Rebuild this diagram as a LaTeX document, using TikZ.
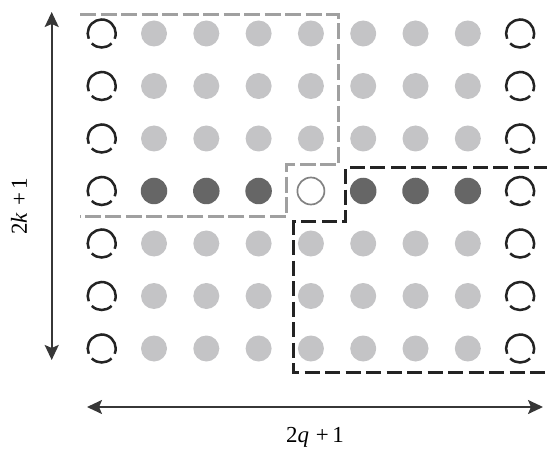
\documentclass[tikz,border=0pt]{standalone}
\usepackage{fontspec}
\setmainfont{Liberation Serif}
\usetikzlibrary{arrows.meta}
\definecolor{lightdot}{RGB}{196,196,198}
\definecolor{darkdot}{RGB}{102,102,102}
\definecolor{edgeblack}{RGB}{35,35,35}
\definecolor{graydash}{RGB}{160,160,160}
\definecolor{arrowgray}{RGB}{55,55,55}
\definecolor{centergray}{RGB}{130,130,130}
\tikzset{
  lightd/.style={circle,fill=lightdot,inner sep=0pt,minimum size=26bp},
  darkd/.style={circle,fill=darkdot,inner sep=0pt,minimum size=26.5bp},
  centerd/.style={circle,draw=centergray,line width=1.7bp,inner sep=0pt,minimum size=27bp},
  bound/.style={draw=edgeblack,line width=2.5bp},
  graybox/.style={draw=graydash,line width=3bp,dash pattern=on 16bp off 4.5bp},
  blackbox/.style={draw=edgeblack,line width=3bp,dash pattern=on 15bp off 5.5bp},
  arr/.style={draw=arrowgray,line width=2bp,{Stealth[length=15bp,width=14bp,inset=3bp]}-{Stealth[length=15bp,width=14bp,inset=3bp]}},
  lab/.style={font=\fontsize{23}{27}\selectfont,inner sep=0pt}
}
\begin{document}
\begin{tikzpicture}[x=1bp,y=-1bp]
\useasboundingbox (0,0) rectangle (547,451);
\foreach \i in {0,...,8}{
  \foreach \j in {0,...,6}{
    \pgfmathsetmacro\px{101.7+52.3*\i}
    \pgfmathsetmacro\py{33.5+52.5*\j}
    \ifnum\i=0
      \coordinate (d-\i-\j) at (\px,\py);
      \draw[bound] (d-\i-\j) ++(-22:14bp) arc[start angle=-22,end angle=202,radius=14bp];
      \draw[bound] (d-\i-\j) ++(225:14bp) arc[start angle=225,end angle=315,radius=14bp];
    \else\ifnum\i=8
      \coordinate (d-\i-\j) at (\px,\py);
      \draw[bound] (d-\i-\j) ++(-22:14bp) arc[start angle=-22,end angle=202,radius=14bp];
      \draw[bound] (d-\i-\j) ++(225:14bp) arc[start angle=225,end angle=315,radius=14bp];
    \else\ifnum\j=3
      \ifnum\i=4
        \node[centerd] (d-\i-\j) at (\px,\py) {};
      \else
        \node[darkd] (d-\i-\j) at (\px,\py) {};
      \fi
    \else
      \node[lightd] (d-\i-\j) at (\px,\py) {};
    \fi\fi\fi
  }
}
% gray dashed region
\coordinate (g1) at (80,15);
\coordinate (g2) at (338,15);
\coordinate (g3) at (338,165);
\coordinate (g4) at (286,165);
\coordinate (g5) at (286,217);
\coordinate (g6) at (80,217);
\draw[graybox] (g1) -- (g2) -- (g3) -- (g4) -- (g5) -- (g6);
% black dashed region
\coordinate (b1) at (549,168);
\coordinate (b2) at (345,168);
\coordinate (b3) at (345,222);
\coordinate (b4) at (293,222);
\coordinate (b5) at (293,372);
\coordinate (b6) at (549,372);
\draw[blackbox] (b1) -- (b2) -- (b3) -- (b4) -- (b5) -- (b6);
% arrows
\coordinate (vt) at (51.7,12);
\coordinate (vb) at (51.7,360);
\coordinate (hl) at (87,407);
\coordinate (hr) at (543,407);
\draw[arr] (vt) -- (vb);
\draw[arr] (hl) -- (hr);
\node[lab,rotate=90] (klab) at (19,206.5) {2\textit{k}\hspace{0.3em}+\hspace{0.15em}1};
\node[lab] (qlab) at (315,437) {2\textit{q}\hspace{0.3em}+\hspace{0.15em}1};
\end{tikzpicture}
\end{document}
